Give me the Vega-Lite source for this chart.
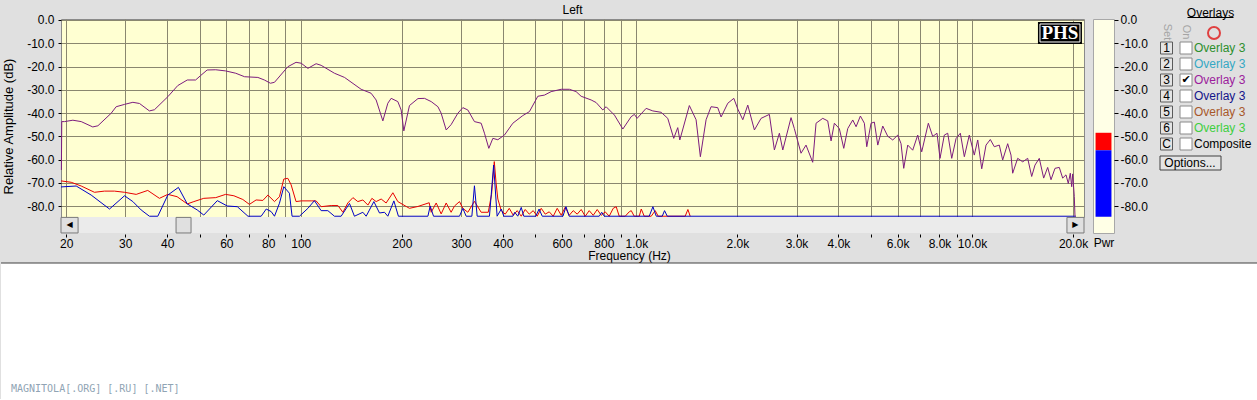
{
  "$schema": "https://vega.github.io/schema/vega-lite/v6.json",
  "background": "#e0e0e0",
  "padding": {"left": 0, "top": 3, "right": 0, "bottom": 0},
  "config": {
    "font": "Liberation Sans",
    "view": {"stroke": null}
  },
  "datasets": {
    "spectrum": [
      {"trace":"Overlay 3","freq":19.35,"db":-64.5},{"trace":"Overlay 3","freq":19.4,"db":-43.7},{"trace":"Overlay 3","freq":19.77,"db":-43.7},{"trace":"Overlay 3","freq":20.94,"db":-43.1},{"trace":"Overlay 3","freq":22.17,"db":-43.7},{"trace":"Overlay 3","freq":24.0,"db":-46.0},{"trace":"Overlay 3","freq":24.86,"db":-45.5},{"trace":"Overlay 3","freq":27.23,"db":-40.1},{"trace":"Overlay 3","freq":28.18,"db":-37.3},{"trace":"Overlay 3","freq":29.84,"db":-36.3},{"trace":"Overlay 3","freq":31.6,"db":-35.4},{"trace":"Overlay 3","freq":33.07,"db":-35.9},{"trace":"Overlay 3","freq":35.4,"db":-39.1},{"trace":"Overlay 3","freq":36.64,"db":-38.6},{"trace":"Overlay 3","freq":40.16,"db":-33.0},{"trace":"Overlay 3","freq":43.0,"db":-28.2},{"trace":"Overlay 3","freq":45.9,"db":-25.8},{"trace":"Overlay 3","freq":48.6,"db":-25.8},{"trace":"Overlay 3","freq":50.3,"db":-23.9},{"trace":"Overlay 3","freq":52.6,"db":-21.5},{"trace":"Overlay 3","freq":55.8,"db":-21.4},{"trace":"Overlay 3","freq":59.7,"db":-21.9},{"trace":"Overlay 3","freq":64.0,"db":-22.9},{"trace":"Overlay 3","freq":68.0,"db":-24.4},{"trace":"Overlay 3","freq":74.5,"db":-24.7},{"trace":"Overlay 3","freq":77.9,"db":-25.8},{"trace":"Overlay 3","freq":81.2,"db":-27.2},{"trace":"Overlay 3","freq":83.5,"db":-26.8},{"trace":"Overlay 3","freq":91.5,"db":-20.1},{"trace":"Overlay 3","freq":96.8,"db":-18.2},{"trace":"Overlay 3","freq":100.3,"db":-18.6},{"trace":"Overlay 3","freq":105,"db":-20.8},{"trace":"Overlay 3","freq":111.1,"db":-18.8},{"trace":"Overlay 3","freq":115,"db":-19.5},{"trace":"Overlay 3","freq":126,"db":-22.9},{"trace":"Overlay 3","freq":135,"db":-24.7},{"trace":"Overlay 3","freq":151.3,"db":-29.8},{"trace":"Overlay 3","freq":162,"db":-31.5},{"trace":"Overlay 3","freq":167.7,"db":-34.4},{"trace":"Overlay 3","freq":175.6,"db":-43.4},{"trace":"Overlay 3","freq":181.7,"db":-35.8},{"trace":"Overlay 3","freq":185.9,"db":-33.7},{"trace":"Overlay 3","freq":194.6,"db":-35.1},{"trace":"Overlay 3","freq":199.1,"db":-38.7},{"trace":"Overlay 3","freq":202.8,"db":-47.7},{"trace":"Overlay 3","freq":210.8,"db":-36.8},{"trace":"Overlay 3","freq":223.4,"db":-33.8},{"trace":"Overlay 3","freq":233.7,"db":-33.7},{"trace":"Overlay 3","freq":244.7,"db":-35.1},{"trace":"Overlay 3","freq":256.2,"db":-37.3},{"trace":"Overlay 3","freq":262,"db":-40.1},{"trace":"Overlay 3","freq":271.2,"db":-47.3},{"trace":"Overlay 3","freq":280.5,"db":-45.0},{"trace":"Overlay 3","freq":293.8,"db":-40.1},{"trace":"Overlay 3","freq":304,"db":-37.7},{"trace":"Overlay 3","freq":314.6,"db":-38.7},{"trace":"Overlay 3","freq":329.2,"db":-43.7},{"trace":"Overlay 3","freq":344.7,"db":-44.4},{"trace":"Overlay 3","freq":352.6,"db":-48.7},{"trace":"Overlay 3","freq":363.3,"db":-55.2},{"trace":"Overlay 3","freq":373.5,"db":-50.9},{"trace":"Overlay 3","freq":386.5,"db":-51.5},{"trace":"Overlay 3","freq":404.4,"db":-49.5},{"trace":"Overlay 3","freq":428.4,"db":-44.4},{"trace":"Overlay 3","freq":458.8,"db":-41.1},{"trace":"Overlay 3","freq":480.1,"db":-39.4},{"trace":"Overlay 3","freq":508.5,"db":-32.8},{"trace":"Overlay 3","freq":532.1,"db":-32.3},{"trace":"Overlay 3","freq":557.1,"db":-30.8},{"trace":"Overlay 3","freq":596.9,"db":-29.8},{"trace":"Overlay 3","freq":631.5,"db":-29.8},{"trace":"Overlay 3","freq":661.3,"db":-30.8},{"trace":"Overlay 3","freq":684.4,"db":-32.8},{"trace":"Overlay 3","freq":733.2,"db":-34.4},{"trace":"Overlay 3","freq":758.6,"db":-35.5},{"trace":"Overlay 3","freq":794.1,"db":-38.7},{"trace":"Overlay 3","freq":812.4,"db":-37.3},{"trace":"Overlay 3","freq":860.2,"db":-40.9},{"trace":"Overlay 3","freq":911.1,"db":-46.9},{"trace":"Overlay 3","freq":964.5,"db":-41.6},{"trace":"Overlay 3","freq":986.5,"db":-40.6},{"trace":"Overlay 3","freq":1005,"db":-42.3},{"trace":"Overlay 3","freq":1069,"db":-38.0},{"trace":"Overlay 3","freq":1119,"db":-39.1},{"trace":"Overlay 3","freq":1185,"db":-39.7},{"trace":"Overlay 3","freq":1240,"db":-42.3},{"trace":"Overlay 3","freq":1292,"db":-50.9},{"trace":"Overlay 3","freq":1328,"db":-46.3},{"trace":"Overlay 3","freq":1347,"db":-51.6},{"trace":"Overlay 3","freq":1438,"db":-36.8},{"trace":"Overlay 3","freq":1506,"db":-42.9},{"trace":"Overlay 3","freq":1551,"db":-58.8},{"trace":"Overlay 3","freq":1613,"db":-42.9},{"trace":"Overlay 3","freq":1669,"db":-37.3},{"trace":"Overlay 3","freq":1747,"db":-37.7},{"trace":"Overlay 3","freq":1788,"db":-41.7},{"trace":"Overlay 3","freq":1872,"db":-35.8},{"trace":"Overlay 3","freq":1951,"db":-33.7},{"trace":"Overlay 3","freq":2005,"db":-38.3},{"trace":"Overlay 3","freq":2075,"db":-42.9},{"trace":"Overlay 3","freq":2147,"db":-36.6},{"trace":"Overlay 3","freq":2247,"db":-47.3},{"trace":"Overlay 3","freq":2352,"db":-42.3},{"trace":"Overlay 3","freq":2490,"db":-40.6},{"trace":"Overlay 3","freq":2577,"db":-55.9},{"trace":"Overlay 3","freq":2667,"db":-48.7},{"trace":"Overlay 3","freq":2730,"db":-55.9},{"trace":"Overlay 3","freq":2889,"db":-42.0},{"trace":"Overlay 3","freq":2955,"db":-46.7},{"trace":"Overlay 3","freq":3094,"db":-57.3},{"trace":"Overlay 3","freq":3202,"db":-53.8},{"trace":"Overlay 3","freq":3352,"db":-61.2},{"trace":"Overlay 3","freq":3430,"db":-44.4},{"trace":"Overlay 3","freq":3591,"db":-42.3},{"trace":"Overlay 3","freq":3716,"db":-43.4},{"trace":"Overlay 3","freq":3802,"db":-52.0},{"trace":"Overlay 3","freq":3889,"db":-44.4},{"trace":"Overlay 3","freq":4024,"db":-46.7},{"trace":"Overlay 3","freq":4148,"db":-55.2},{"trace":"Overlay 3","freq":4263,"db":-46.7},{"trace":"Overlay 3","freq":4412,"db":-43.0},{"trace":"Overlay 3","freq":4514,"db":-45.9},{"trace":"Overlay 3","freq":4649,"db":-41.3},{"trace":"Overlay 3","freq":4778,"db":-44.4},{"trace":"Overlay 3","freq":4857,"db":-54.5},{"trace":"Overlay 3","freq":5002,"db":-44.4},{"trace":"Overlay 3","freq":5116,"db":-43.9},{"trace":"Overlay 3","freq":5238,"db":-53.8},{"trace":"Overlay 3","freq":5420,"db":-45.6},{"trace":"Overlay 3","freq":5609,"db":-50.0},{"trace":"Overlay 3","freq":5805,"db":-51.6},{"trace":"Overlay 3","freq":6008,"db":-49.5},{"trace":"Overlay 3","freq":6145,"db":-53.2},{"trace":"Overlay 3","freq":6259,"db":-63.8},{"trace":"Overlay 3","freq":6433,"db":-53.8},{"trace":"Overlay 3","freq":6657,"db":-56.0},{"trace":"Overlay 3","freq":6890,"db":-49.5},{"trace":"Overlay 3","freq":7081,"db":-56.7},{"trace":"Overlay 3","freq":7410,"db":-44.4},{"trace":"Overlay 3","freq":7636,"db":-50.1},{"trace":"Overlay 3","freq":7865,"db":-48.7},{"trace":"Overlay 3","freq":8029,"db":-59.5},{"trace":"Overlay 3","freq":8269,"db":-49.5},{"trace":"Overlay 3","freq":8464,"db":-48.7},{"trace":"Overlay 3","freq":8700,"db":-59.5},{"trace":"Overlay 3","freq":8962,"db":-51.0},{"trace":"Overlay 3","freq":9230,"db":-48.7},{"trace":"Overlay 3","freq":9486,"db":-58.8},{"trace":"Overlay 3","freq":9815,"db":-49.5},{"trace":"Overlay 3","freq":10157,"db":-58.1},{"trace":"Overlay 3","freq":10399,"db":-51.6},{"trace":"Overlay 3","freq":10688,"db":-64.0},{"trace":"Overlay 3","freq":11008,"db":-53.8},{"trace":"Overlay 3","freq":11337,"db":-51.4},{"trace":"Overlay 3","freq":11652,"db":-54.5},{"trace":"Overlay 3","freq":12058,"db":-53.8},{"trace":"Overlay 3","freq":12341,"db":-60.2},{"trace":"Overlay 3","freq":12772,"db":-53.2},{"trace":"Overlay 3","freq":13066,"db":-58.1},{"trace":"Overlay 3","freq":13217,"db":-65.9},{"trace":"Overlay 3","freq":13679,"db":-59.5},{"trace":"Overlay 3","freq":14158,"db":-61.0},{"trace":"Overlay 3","freq":14652,"db":-59.5},{"trace":"Overlay 3","freq":15060,"db":-67.3},{"trace":"Overlay 3","freq":15404,"db":-62.4},{"trace":"Overlay 3","freq":15864,"db":-59.5},{"trace":"Overlay 3","freq":16350,"db":-68.0},{"trace":"Overlay 3","freq":16805,"db":-63.4},{"trace":"Overlay 3","freq":17193,"db":-68.7},{"trace":"Overlay 3","freq":17670,"db":-63.8},{"trace":"Overlay 3","freq":18197,"db":-63.4},{"trace":"Overlay 3","freq":18626,"db":-68.0},{"trace":"Overlay 3","freq":19055,"db":-66.6},{"trace":"Overlay 3","freq":19357,"db":-70.3},{"trace":"Overlay 3","freq":19626,"db":-65.9},{"trace":"Overlay 3","freq":19816,"db":-71.7},{"trace":"Overlay 3","freq":19950,"db":-66.2},{"trace":"Overlay 3","freq":20172,"db":-76.0},{"trace":"Overlay 3","freq":20270,"db":-84.6},
      {"trace":"Peak","freq":19.3,"db":-69.2},{"trace":"Peak","freq":20.7,"db":-69.8},{"trace":"Peak","freq":22.17,"db":-71.4},{"trace":"Peak","freq":24.28,"db":-74.1},{"trace":"Peak","freq":26.0,"db":-73.6},{"trace":"Peak","freq":27.86,"db":-73.6},{"trace":"Peak","freq":29.84,"db":-74.1},{"trace":"Peak","freq":32.33,"db":-75.0},{"trace":"Peak","freq":35.0,"db":-73.3},{"trace":"Peak","freq":37.92,"db":-76.7},{"trace":"Peak","freq":40.16,"db":-75.0},{"trace":"Peak","freq":42.8,"db":-76.0},{"trace":"Peak","freq":45.9,"db":-79.1},{"trace":"Peak","freq":48.02,"db":-78.1},{"trace":"Peak","freq":51.4,"db":-76.7},{"trace":"Peak","freq":55.8,"db":-76.4},{"trace":"Peak","freq":59.7,"db":-75.0},{"trace":"Peak","freq":63.2,"db":-75.6},{"trace":"Peak","freq":67.2,"db":-77.2},{"trace":"Peak","freq":70.3,"db":-79.3},{"trace":"Peak","freq":73.6,"db":-77.4},{"trace":"Peak","freq":77.1,"db":-77.6},{"trace":"Peak","freq":79.8,"db":-75.3},{"trace":"Peak","freq":83.5,"db":-78.1},{"trace":"Peak","freq":86.4,"db":-76.0},{"trace":"Peak","freq":89.0,"db":-68.4},{"trace":"Peak","freq":91.5,"db":-68.1},{"trace":"Peak","freq":93.6,"db":-70.9},{"trace":"Peak","freq":96.8,"db":-78.1},{"trace":"Peak","freq":100.3,"db":-77.8},{"trace":"Peak","freq":107.4,"db":-77.8},{"trace":"Peak","freq":111.1,"db":-77.8},{"trace":"Peak","freq":115,"db":-80.3},{"trace":"Peak","freq":123.2,"db":-79.8},{"trace":"Peak","freq":129,"db":-79.8},{"trace":"Peak","freq":133.5,"db":-82.7},{"trace":"Peak","freq":138.1,"db":-78.7},{"trace":"Peak","freq":143,"db":-76.4},{"trace":"Peak","freq":147.9,"db":-78.1},{"trace":"Peak","freq":153.1,"db":-77.4},{"trace":"Peak","freq":158.5,"db":-79.6},{"trace":"Peak","freq":162.9,"db":-76.7},{"trace":"Peak","freq":167.7,"db":-78.1},{"trace":"Peak","freq":173.6,"db":-77.0},{"trace":"Peak","freq":179.6,"db":-78.7},{"trace":"Peak","freq":188.1,"db":-74.3},{"trace":"Peak","freq":194.6,"db":-78.1},{"trace":"Peak","freq":206.1,"db":-80.2},{"trace":"Peak","freq":210.8,"db":-81.0},{"trace":"Peak","freq":223.4,"db":-80.2},{"trace":"Peak","freq":241.3,"db":-78.6},{"trace":"Peak","freq":244.7,"db":-82.7},{"trace":"Peak","freq":253.2,"db":-78.7},{"trace":"Peak","freq":262,"db":-83.4},{"trace":"Peak","freq":271.2,"db":-78.7},{"trace":"Peak","freq":280.5,"db":-82.7},{"trace":"Peak","freq":287.1,"db":-80.0},{"trace":"Peak","freq":297.1,"db":-78.1},{"trace":"Peak","freq":304,"db":-81.0},{"trace":"Peak","freq":314.6,"db":-82.7},{"trace":"Peak","freq":329.2,"db":-78.0},{"trace":"Peak","freq":344.7,"db":-82.7},{"trace":"Peak","freq":361.9,"db":-82.7},{"trace":"Peak","freq":370.2,"db":-75.0},{"trace":"Peak","freq":377.2,"db":-60.9},{"trace":"Peak","freq":381.8,"db":-70.0},{"trace":"Peak","freq":386.5,"db":-77.0},{"trace":"Peak","freq":395.7,"db":-82.0},{"trace":"Peak","freq":406.6,"db":-83.5},{"trace":"Peak","freq":418,"db":-81.0},{"trace":"Peak","freq":429.6,"db":-84.0},{"trace":"Peak","freq":441.5,"db":-82.0},{"trace":"Peak","freq":453.8,"db":-84.4},{"trace":"Peak","freq":466.4,"db":-81.5},{"trace":"Peak","freq":479.4,"db":-83.5},{"trace":"Peak","freq":492.7,"db":-82.0},{"trace":"Peak","freq":506.4,"db":-84.4},{"trace":"Peak","freq":520.5,"db":-81.0},{"trace":"Peak","freq":535,"db":-83.5},{"trace":"Peak","freq":549.9,"db":-82.5},{"trace":"Peak","freq":565.2,"db":-84.4},{"trace":"Peak","freq":580.9,"db":-81.0},{"trace":"Peak","freq":597.1,"db":-84.0},{"trace":"Peak","freq":613.7,"db":-80.5},{"trace":"Peak","freq":630.7,"db":-84.0},{"trace":"Peak","freq":648.3,"db":-82.0},{"trace":"Peak","freq":666.3,"db":-83.5},{"trace":"Peak","freq":684.8,"db":-81.5},{"trace":"Peak","freq":703.9,"db":-84.4},{"trace":"Peak","freq":723.5,"db":-82.0},{"trace":"Peak","freq":743.6,"db":-84.0},{"trace":"Peak","freq":764.3,"db":-81.5},{"trace":"Peak","freq":785.5,"db":-84.0},{"trace":"Peak","freq":807.4,"db":-82.5},{"trace":"Peak","freq":829.8,"db":-84.4},{"trace":"Peak","freq":853,"db":-81.0},{"trace":"Peak","freq":870.6,"db":-80.3},{"trace":"Peak","freq":888.9,"db":-84.4},{"trace":"Peak","freq":926.2,"db":-84.4},{"trace":"Peak","freq":951.9,"db":-82.5},{"trace":"Peak","freq":965.2,"db":-82.0},{"trace":"Peak","freq":985.2,"db":-84.4},{"trace":"Peak","freq":1019.7,"db":-84.4},{"trace":"Peak","freq":1033.9,"db":-81.3},{"trace":"Peak","freq":1055.3,"db":-84.4},{"trace":"Peak","freq":1107.2,"db":-84.4},{"trace":"Peak","freq":1137.8,"db":-82.0},{"trace":"Peak","freq":1161.4,"db":-84.4},{"trace":"Peak","freq":1397.5,"db":-84.4},{"trace":"Peak","freq":1423.8,"db":-81.5},{"trace":"Peak","freq":1446.4,"db":-84.4},
      {"trace":"Live","freq":19.3,"db":-71.8},{"trace":"Live","freq":21.42,"db":-71.4},{"trace":"Live","freq":23.74,"db":-75.3},{"trace":"Live","freq":26.92,"db":-81.3},{"trace":"Live","freq":29.84,"db":-75.6},{"trace":"Live","freq":31.6,"db":-78.1},{"trace":"Live","freq":33.45,"db":-81.7},{"trace":"Live","freq":35.4,"db":-84.4},{"trace":"Live","freq":37.5,"db":-84.4},{"trace":"Live","freq":40.16,"db":-75.3},{"trace":"Live","freq":43.19,"db":-72.0},{"trace":"Live","freq":45.9,"db":-79.1},{"trace":"Live","freq":49.15,"db":-81.7},{"trace":"Live","freq":51.4,"db":-83.9},{"trace":"Live","freq":56.4,"db":-77.7},{"trace":"Live","freq":60.4,"db":-80.0},{"trace":"Live","freq":64.7,"db":-80.3},{"trace":"Live","freq":69.6,"db":-84.4},{"trace":"Live","freq":76.2,"db":-84.4},{"trace":"Live","freq":78.9,"db":-81.3},{"trace":"Live","freq":81.6,"db":-82.4},{"trace":"Live","freq":83.5,"db":-84.4},{"trace":"Live","freq":86.4,"db":-78.8},{"trace":"Live","freq":89.0,"db":-71.7},{"trace":"Live","freq":92.5,"db":-74.5},{"trace":"Live","freq":94.2,"db":-84.4},{"trace":"Live","freq":99.1,"db":-84.4},{"trace":"Live","freq":105,"db":-81.0},{"trace":"Live","freq":109.8,"db":-77.7},{"trace":"Live","freq":115,"db":-82.0},{"trace":"Live","freq":120.4,"db":-82.0},{"trace":"Live","freq":126,"db":-84.4},{"trace":"Live","freq":131.9,"db":-84.4},{"trace":"Live","freq":139.7,"db":-78.9},{"trace":"Live","freq":144.5,"db":-84.4},{"trace":"Live","freq":153.1,"db":-82.7},{"trace":"Live","freq":156.6,"db":-84.4},{"trace":"Live","freq":165.1,"db":-78.1},{"trace":"Live","freq":171.6,"db":-83.0},{"trace":"Live","freq":177.6,"db":-82.7},{"trace":"Live","freq":181.7,"db":-84.4},{"trace":"Live","freq":189.4,"db":-77.8},{"trace":"Live","freq":195.4,"db":-84.4},{"trace":"Live","freq":239.2,"db":-84.4},{"trace":"Live","freq":243,"db":-80.0},{"trace":"Live","freq":248.6,"db":-84.4},{"trace":"Live","freq":297.1,"db":-84.4},{"trace":"Live","freq":304,"db":-81.0},{"trace":"Live","freq":311,"db":-84.4},{"trace":"Live","freq":323.4,"db":-84.4},{"trace":"Live","freq":329.2,"db":-71.3},{"trace":"Live","freq":335.4,"db":-84.4},{"trace":"Live","freq":364.9,"db":-84.4},{"trace":"Live","freq":375.5,"db":-62.4},{"trace":"Live","freq":384.6,"db":-84.4},{"trace":"Live","freq":395.7,"db":-81.3},{"trace":"Live","freq":402.6,"db":-84.4},{"trace":"Live","freq":428.4,"db":-84.4},{"trace":"Live","freq":434,"db":-82.7},{"trace":"Live","freq":443.1,"db":-84.4},{"trace":"Live","freq":453.8,"db":-80.6},{"trace":"Live","freq":461.8,"db":-84.4},{"trace":"Live","freq":501.4,"db":-84.4},{"trace":"Live","freq":512.9,"db":-81.3},{"trace":"Live","freq":524.2,"db":-84.4},{"trace":"Live","freq":604.2,"db":-84.4},{"trace":"Live","freq":616.8,"db":-80.3},{"trace":"Live","freq":630.7,"db":-84.4},{"trace":"Live","freq":774.9,"db":-84.4},{"trace":"Live","freq":788.2,"db":-82.7},{"trace":"Live","freq":802,"db":-84.4},{"trace":"Live","freq":1092,"db":-84.4},{"trace":"Live","freq":1120,"db":-80.3},{"trace":"Live","freq":1146,"db":-84.4},{"trace":"Live","freq":1194,"db":-84.4},{"trace":"Live","freq":1213,"db":-82.0},{"trace":"Live","freq":1236,"db":-84.4},{"trace":"Live","freq":20400,"db":-84.4}
    ],
    "meter": [
      {"band":"peak","top":-48.5,"bottom":-56.0},
      {"band":"rms","top":-56.0,"bottom":-84.6}
    ],
    "overlays": [
      {"key":"1","label":"Overlay 3","on":false},
      {"key":"2","label":"Overlay 3","on":false},
      {"key":"3","label":"Overlay 3","on":true},
      {"key":"4","label":"Overlay 3","on":false},
      {"key":"5","label":"Overlay 3","on":false},
      {"key":"6","label":"Overlay 3","on":false},
      {"key":"C","label":"Composite","on":false}
    ],
    "watermark": [{"text":"MAGNITOLA[.ORG] [.RU] [.NET]"}]
  },
  "columns": 1,
  "align": "none",
  "spacing": 0,
  "concat": [
    {
      "bounds": "flush",
      "spacing": 9,
      "resolve": {"scale": {"color": "independent"}},
      "hconcat": [
        {
          "width": 1023,
          "height": 198,
          "data": {"name": "spectrum"},
          "view": {"fill": "#ffffd2", "stroke": "#8a8a8a"},
          "layer": [
            {
              "transform": [{"filter": "datum.trace === 'Peak'"}],
              "mark": {"type": "line", "color": "#e80000", "strokeWidth": 1},
              "encoding": {
                "x": {"field": "freq", "type": "quantitative",
                  "scale": {"type": "log", "domain": [19.3, 21560], "nice": false},
                  "axis": {
                    "values": [20,30,40,50,60,70,80,90,100,200,300,400,500,600,700,800,900,1000,2000,3000,4000,5000,6000,7000,8000,9000,10000,20000],
                    "labelExpr": "indexof([50,70,90,500,700,900,5000,7000,9000], datum.value) >= 0 ? '' : (datum.value >= 1000 ? format(datum.value / 1000, '.1f') + 'k' : format(datum.value, 'd'))",
                    "grid": true, "gridColor": "#8a876f", "gridOpacity": 1, "gridWidth": 1,
                    "domain": false, "ticks": true, "tickColor": "#000000", "tickSize": 3, "offset": 17,
                    "labelFontSize": 12, "labelColor": "#000000", "labelPadding": 1, "labelFlush": false, "labelOverlap": false, "labelBound": false,
                    "title": "Frequency (Hz)", "titleFontSize": 12, "titleFontWeight": "normal", "titleColor": "#000000",
                    "titleX": 568, "titleY": 25, "titleBaseline": "alphabetic", "titleAlign": "center"
                  }
                },
                "y": {"field": "db", "type": "quantitative",
                  "scale": {"domain": [-84.73, 0.43], "nice": false, "zero": false},
                  "axis": {
                    "values": [0,-10,-20,-30,-40,-50,-60,-70,-80],
                    "tickCount": 9,
                    "labelExpr": "datum.value == 0 ? '0.0' : '-' + format(-datum.value, '.1f')",
                    "grid": true, "gridColor": "#8a876f", "gridOpacity": 1, "gridWidth": 1,
                    "domain": false, "ticks": true, "tickColor": "#000000", "tickSize": 3,
                    "labelFontSize": 12, "labelColor": "#000000", "labelPadding": 4, "labelOverlap": false, "labelBound": false,
                    "title": "Relative Amplitude (dB)", "titleFontSize": 13, "titleFontWeight": "normal", "titleColor": "#000000",
                    "titleAngle": -90, "titleX": -49, "titleY": 107, "titleBaseline": "alphabetic", "titleAlign": "center"
                  }
                }
              }
            },
            {
              "transform": [{"filter": "datum.trace === 'Live'"}],
              "mark": {"type": "line", "color": "#0000c8", "strokeWidth": 1},
              "encoding": {"x": {"field": "freq", "type": "quantitative"}, "y": {"field": "db", "type": "quantitative"}}
            },
            {
              "transform": [{"filter": "datum.trace === 'Overlay 3'"}],
              "mark": {"type": "line", "color": "#7c1c7e", "strokeWidth": 1},
              "encoding": {"x": {"field": "freq", "type": "quantitative"}, "y": {"field": "db", "type": "quantitative"}}
            },
            {
              "data": {"values": [{}]},
              "mark": {"type": "rect", "fill": "#ebebeb"},
              "encoding": {"x": {"datum": 19.3, "type": "quantitative"}, "x2": {"datum": 21560}, "y": {"datum": -84.73, "type": "quantitative"}, "y2": {"datum": -91.6}}
            },
            {
              "data": {"values": [{}]},
              "mark": {"type": "text", "fontSize": 12, "color": "#000000", "baseline": "alphabetic"},
              "encoding": {"x": {"datum": 645, "type": "quantitative"}, "y": {"datum": 2.58, "type": "quantitative"}, "text": {"value": "Left"}}
            },
            {
              "data": {"values": [{}]},
              "mark": {"type": "rect", "fill": "#e0e0e0", "stroke": "#7a7a7a", "strokeWidth": 1},
              "encoding": {"x": {"datum": 19.3, "type": "quantitative"}, "x2": {"datum": 21.7}, "y": {"datum": -84.9, "type": "quantitative"}, "y2": {"datum": -91.6}}
            },
            {
              "data": {"values": [{}]},
              "mark": {"type": "rect", "fill": "#e0e0e0", "stroke": "#7a7a7a", "strokeWidth": 1},
              "encoding": {"x": {"datum": 42.5, "type": "quantitative"}, "x2": {"datum": 47.1}, "y": {"datum": -84.9, "type": "quantitative"}, "y2": {"datum": -91.6}}
            },
            {
              "data": {"values": [{}]},
              "mark": {"type": "rect", "fill": "#e0e0e0", "stroke": "#7a7a7a", "strokeWidth": 1},
              "encoding": {"x": {"datum": 19180, "type": "quantitative"}, "x2": {"datum": 21560}, "y": {"datum": -84.9, "type": "quantitative"}, "y2": {"datum": -91.6}}
            },
            {
              "data": {"values": [{}]},
              "mark": {"type": "text", "font": "DejaVu Sans", "fontSize": 8, "color": "#000000"},
              "encoding": {"x": {"datum": 20.48, "type": "quantitative"}, "y": {"datum": -88.3, "type": "quantitative"}, "text": {"value": "◀"}}
            },
            {
              "data": {"values": [{}]},
              "mark": {"type": "text", "font": "DejaVu Sans", "fontSize": 8, "color": "#000000"},
              "encoding": {"x": {"datum": 20330, "type": "quantitative"}, "y": {"datum": -88.3, "type": "quantitative"}, "text": {"value": "▶"}}
            },
            {
              "data": {"values": [{}]},
              "mark": {"type": "rect", "fill": "#000000"},
              "encoding": {"x": {"datum": 15720, "type": "quantitative"}, "x2": {"datum": 21260}, "y": {"datum": -0.86, "type": "quantitative"}, "y2": {"datum": -10.3}}
            },
            {
              "data": {"values": [{}]},
              "mark": {"type": "rect", "fill": null, "stroke": "#ffffff", "strokeWidth": 1},
              "encoding": {"x": {"datum": 15940, "type": "quantitative"}, "x2": {"datum": 20970}, "y": {"datum": -1.72, "type": "quantitative"}, "y2": {"datum": -9.46}}
            },
            {
              "data": {"values": [{}]},
              "mark": {"type": "text", "font": "Liberation Serif", "fontWeight": "bold", "fontSize": 19, "color": "#ffffff", "baseline": "middle"},
              "encoding": {"x": {"datum": 18280, "type": "quantitative"}, "y": {"datum": -5.8, "type": "quantitative"}, "text": {"value": "PHS"}}
            }
          ]
        },
        {
          "width": 21,
          "height": 214,
          "data": {"name": "meter"},
          "view": {"fill": "#ffffe6", "stroke": "#a8a8a8"},
          "mark": {"type": "bar"},
          "encoding": {
            "x": {"datum": "Pwr", "type": "nominal",
              "scale": {"paddingInner": 0, "paddingOuter": 0.16},
              "axis": {"title": "Pwr", "labels": false, "ticks": false, "domain": false, "grid": false, "titlePadding": 4, "titleFontSize": 12, "titleFontWeight": "normal", "titleColor": "#000000"}
            },
            "y": {"field": "top", "type": "quantitative",
              "scale": {"domain": [-91.6, 0.43], "nice": false, "zero": false},
              "axis": {"orient": "right", "values": [0,-10,-20,-30,-40,-50,-60,-70,-80],
                "labelExpr": "datum.value == 0 ? '0.0' : '-' + format(-datum.value, '.1f')",
                "grid": false, "domain": false, "ticks": true, "tickColor": "#000000", "tickSize": 4,
                "labelPadding": 2, "labelFontSize": 12, "labelColor": "#000000", "labelOverlap": false, "title": null}
            },
            "y2": {"field": "bottom"},
            "color": {"field": "band", "type": "nominal", "scale": {"domain": ["peak","rms"], "range": ["#ff0000","#0000ff"]}, "legend": null}
          }
        },
        {
          "width": 126,
          "height": 154,
          "data": {"name": "overlays"},
          "layer": [
            {
              "data": {"values": [{}]},
              "mark": {"type": "text", "fontSize": 12, "color": "#000000", "baseline": "middle", "dx": 5, "dy": -19.5},
              "encoding": {
                "x": {"datum": "txt", "type": "nominal", "scale": {"type": "point", "domain": ["btn","chk","txt"], "range": [43.5, 82.5], "padding": 0}, "axis": null},
                "y": {"datum": "hdr", "type": "nominal", "scale": {"type": "point", "domain": ["hdr","1","2","3","4","5","6","C","opt"], "padding": 0.8125}, "axis": null},
                "text": {"value": "Overlays"}
              }
            },
            {
              "data": {"values": [{}]},
              "mark": {"type": "point", "shape": "M-0.783,-0.63H1.217", "size": 2116, "filled": false, "stroke": "#000000", "strokeWidth": 1, "opacity": 1},
              "encoding": {"x": {"datum": "txt", "type": "nominal"}, "y": {"datum": "hdr", "type": "nominal"}}
            },
            {
              "data": {"values": [{}]},
              "mark": {"type": "point", "shape": "M0.417,0.167A1,1 0 1,1 2.417,0.167A1,1 0 1,1 0.417,0.167Z", "size": 144, "filled": false, "stroke": "#e04040", "strokeWidth": 2, "opacity": 1},
              "encoding": {"x": {"datum": "txt", "type": "nominal"}, "y": {"datum": "hdr", "type": "nominal"}}
            },
            {
              "data": {"values": [{}]},
              "mark": {"type": "text", "angle": 90, "fontSize": 11, "color": "#a4a4a4"},
              "encoding": {"x": {"datum": "btn", "type": "nominal"}, "y": {"datum": "hdr", "type": "nominal"}, "text": {"value": "Set"}}
            },
            {
              "data": {"values": [{}]},
              "mark": {"type": "text", "angle": 90, "fontSize": 11, "color": "#a4a4a4"},
              "encoding": {"x": {"datum": "chk", "type": "nominal"}, "y": {"datum": "hdr", "type": "nominal"}, "text": {"value": "On"}}
            },
            {
              "mark": {"type": "point", "shape": "square", "size": 144, "filled": true, "fill": "#e4e4e4", "stroke": "#5a5a5a", "strokeWidth": 1, "opacity": 1},
              "encoding": {"x": {"datum": "btn", "type": "nominal"}, "y": {"field": "key", "type": "nominal"}}
            },
            {
              "mark": {"type": "text", "fontSize": 12, "color": "#000000"},
              "encoding": {"x": {"datum": "btn", "type": "nominal"}, "y": {"field": "key", "type": "nominal"}, "text": {"field": "key"}}
            },
            {
              "mark": {"type": "point", "shape": "square", "size": 144, "filled": true, "fill": "#ffffff", "stroke": "#8a8a8a", "strokeWidth": 1, "opacity": 1},
              "encoding": {"x": {"datum": "chk", "type": "nominal"}, "y": {"field": "key", "type": "nominal"}}
            },
            {
              "transform": [{"filter": "datum.on"}],
              "mark": {"type": "text", "font": "DejaVu Sans", "fontSize": 11, "color": "#000000"},
              "encoding": {"x": {"datum": "chk", "type": "nominal"}, "y": {"field": "key", "type": "nominal"}, "text": {"value": "✔"}}
            },
            {
              "mark": {"type": "text", "align": "left", "dx": -11.5, "fontSize": 12},
              "encoding": {
                "x": {"datum": "txt", "type": "nominal"},
                "y": {"field": "key", "type": "nominal"},
                "text": {"field": "label"},
                "color": {"field": "key", "type": "nominal", "scale": {"domain": ["1","2","3","4","5","6","C"], "range": ["#2d8f2d","#35a8c4","#9c1c9c","#14148a","#a8582a","#3fcf3f","#000000"]}, "legend": null}
              }
            },
            {
              "data": {"values": [{}]},
              "mark": {"type": "point", "shape": "M-0.852,-0.131H1.148V0.328H-0.852Z", "size": 3721, "filled": true, "fill": "#e4e4e4", "stroke": "#404040", "strokeWidth": 1, "opacity": 1},
              "encoding": {"x": {"datum": "chk", "type": "nominal"}, "y": {"datum": "opt", "type": "nominal"}}
            },
            {
              "data": {"values": [{}]},
              "mark": {"type": "text", "fontSize": 12, "color": "#000000", "dx": 4, "dy": 3},
              "encoding": {"x": {"datum": "chk", "type": "nominal"}, "y": {"datum": "opt", "type": "nominal"}, "text": {"value": "Options..."}}
            }
          ]
        }
      ]
    },
    {
      "width": 1197,
      "height": 136,
      "data": {"name": "watermark"},
      "layer": [
        {
          "data": {"values": [{}]},
          "mark": {"type": "rect", "fill": "#ffffff"},
          "encoding": {
            "x": {"datum": -0.0501, "type": "quantitative", "scale": {"domain": [0, 1]}, "axis": null},
            "x2": {"datum": 1},
            "y": {"datum": 0, "type": "quantitative", "scale": {"domain": [0, 1]}, "axis": null},
            "y2": {"datum": 1}
          }
        },
        {
          "data": {"values": [{}]},
          "mark": {"type": "rule", "color": "#404040"},
          "encoding": {
            "x": {"datum": -0.0501, "type": "quantitative"},
            "x2": {"datum": 1},
            "y": {"datum": 1, "type": "quantitative"}
          }
        },
        {
          "mark": {"type": "text", "align": "left", "baseline": "bottom", "dy": -5, "font": "DejaVu Sans Mono", "fontSize": 10, "color": "#90a4b4"},
          "encoding": {
            "x": {"datum": -0.0418, "type": "quantitative"},
            "y": {"datum": 0, "type": "quantitative"},
            "text": {"field": "text"}
          }
        }
      ]
    }
  ]
}
